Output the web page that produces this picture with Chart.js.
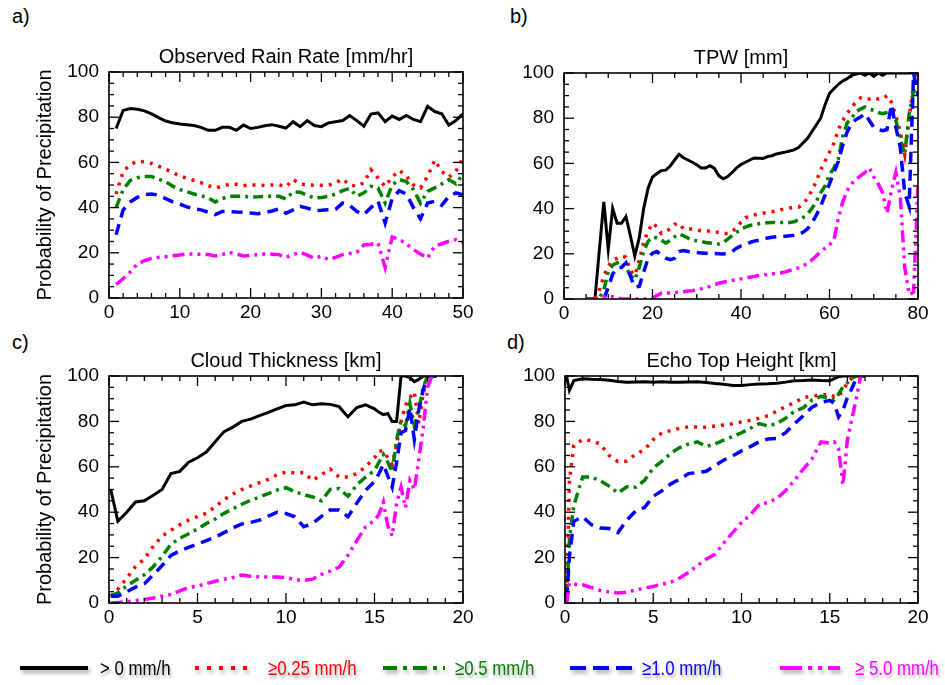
<!DOCTYPE html>
<html>
<head>
<meta charset="utf-8">
<title>Probability of Precipitation</title>
<script src="https://cdn.jsdelivr.net/npm/chart.js@4.4.0/dist/chart.umd.min.js"></script>
<style>
  body { margin: 0; width: 945px; height: 685px; background: #fff; position: relative; overflow: hidden;
         font-family: "Liberation Sans", Arial, Helvetica, sans-serif; }
  canvas { position: absolute; }
  .tag { position: absolute; font-size: 20px; line-height: 20px; color: #000; }
  .leg-line { position: absolute; filter: drop-shadow(2px 3px 2px rgba(0,0,0,0.35)); }
  .leg-text { position: absolute; font-size: 21px; line-height: 22px; white-space: nowrap;
              transform: scaleX(0.8); transform-origin: left center; text-shadow: 2px 3px 3px rgba(0,0,0,0.3); }
</style>
</head>
<body>
<div class="tag" style="left:12px; top:6px">a)</div>
<div class="tag" style="left:510px; top:6px">b)</div>
<div class="tag" style="left:12px; top:332px">c)</div>
<div class="tag" style="left:507px; top:332px">d)</div>

<canvas id="chartA"></canvas>
<canvas id="chartB"></canvas>
<canvas id="chartC"></canvas>
<canvas id="chartD"></canvas>
<div id="legend"></div>

<script>
// ---- data ----

const seriesNames = ['> 0 mm/h', '≥0.25 mm/h', '≥0.5 mm/h', '≥1.0 mm/h', '≥ 5.0 mm/h'];

// a) Observed Rain Rate [mm/hr]
const rainRate = [1,2,3,4,5,6,7,8,9,10,11,12,13,14,15,16,17,18,19,20,21,22,23,24,25,
                  26,27,28,29,30,31,32,33,34,35,36,37,38,39,40,41,42,43,44,45,46,47,48,49,50];
const rrGt0 = [75,83,83.8,83.5,82.8,81.5,79.8,78.3,77.5,77, 76.7,76.3,75.5,74.2,74.2,75.5,75.5,74.2,76.5,75,
               75.5,76.2,76.7,76,75.2,78,75.8,78.5,76.3,75.8, 77.5,78,78.5,80.7,78.5,76,81.4,81.9,78,80.5,
               79,80.8,79,78,84.8,82.5,81.5,76.5,78.5,81.5];
const rrGe025 = [46,56,59,60.5,60.3,59.5,58.3,57,55.5,54, 53,52,51,49.7,48.7,49.5,50.3,50.3,49.7,50.1,
                 49.9,49.8,50,50.1,49.2,52.4,50.5,50,49.9,49.9, 49.9,51,52.7,50,49.5,51,56.8,53.1,49.4,53.5,
                 56.5,54,50,48.7,53.8,61,56,53.5,56,62];
const rrGe05 = [40,48,52,53.2,53.8,53.8,52.6,51.5,49.5,48, 47,46,45.2,44.4,42.5,44,45,45,45,44.7,
                44.8,45,45,45,43.8,47,46.8,45.5,44.2,44.5, 45,46,47.5,48.5,45,46.5,49.4,48.7,42,50,
                52.4,51.5,48,42,47.2,48.7,50.5,52.4,50.5,55];
const rrGe10 = [28,39,42.5,44.5,45.8,46,45.5,44,42.5,41.5, 40.3,39.5,39,38,36.9,38.3,38.2,38,37.9,37.6,
                37.3,37.8,38.5,39.4,37.5,39,40.6,39.8,38.7,38.8, 39,39.2,42,41,38.3,36.9,40,42.8,33.2,44,
                47.5,46,40,35,42,42.8,41,45,46.5,45.7];
const rrGe50 = [6,8.5,11.5,15,16.5,17.5,18,18.3,18.7,19, 19.5,19.4,19.3,19.2,18.6,19.2,20.2,19.5,18.6,18.8,
                19.2,19.5,19.4,19.2,18,19.2,20.2,19,17.6,18.5, 17,18,19.2,19.7,20.2,23.5,23.8,24.3,13.5,27,
                26,24,21.4,19.5,17.7,23,24,25.1,25.8,24.6];

// b) TPW [mm]
const tpw = [5,6,7,8,9,10,11,12,13,14,15,16,17,18,19,20,21,22,23,24,25,26,27,28,29,30,31,32,33,34,35,36,37,38,39,40,
             41,42,43,44,45,46,47,48,49,50,51,52,53,54,55,56,57,58,59,60,61,62,63,64,65,66,67,68,69,70,
             71,72,73,74,75,76,77,78,79,80];
const tpwGt0 = [null,null,0,22,43,22,40,33.5,33.5,36.5, 28,19,27,40,49,54,55.5,56.8,57,58.8,
                61.5,64,62.5,61.5,60.5,59.4,58,58,59,57.8, 54.5,53.2,54.2,56,58,59.5,60.5,61.5,62.4,62.3,
                62.2,63,63.4,64.2,64.6,65,65.5,66,67,69, 71,74,77,80,86,91,93,95,96.5,97.5,
                99,99.5,100,99,100,98.5,100,99,100,100, 100,100,100,100,100,100];
const tpwGe025 = [0,0,0,4,10,14.5,17,18,19,18.5, 12.5,10.5,17,25,30,33.5,32,29,30,31,
                  33,33.5,31,31,31,30.5,30.2,30.2,30,29.5, 29.5,29,29,30,31.5,34,36,36.5,37.2,37.6,
                  38,38.3,38.6,39,39.5,40,40.3,40.5,40.6,42, 44.5,48,52,57,61,65,69,75,79,82,
                  85,87,89,88.5,88.5,89.2,88.5,88.5,90,87, 81,74,64,80,95,100];
const tpwGe05 = [0,0,0,0.5,4,12,15,16,16.5,14, 10.5,8.5,14,21,25.5,27.5,27,26,24.7,26,
                 27.6,28.8,28,27,26,25.8,25.5,25,24.8,24.5, 24.3,25,26.5,28,29.5,31,31.8,32.5,33,33.3,
                 33.5,33.7,33.9,33.9,33.9,33.9,33.9,34.2,35,36, 37.5,40,43,47,50,55,58,62,72,78,
                 80,83,84,85,84,83.5,82.5,82,82.5,83, 79,71,64,82,92,97];
const tpwGe10 = [0,0,0,0,0,5,11,13.7,14,16, 10,5.3,5.6,12,18,20.3,21,19.5,18.1,17.4,
                 18,21,21.4,21,20.7,20.6,20.4,20.2,20.2,20.1, 20,19.9,20.3,21,22.5,23.5,24,25,25.6,26,
                 26.5,27,27.3,27.5,27.6,27.8,28,28.2,28.5,29.5, 31,33.5,37,41,46,51,56,61,68,74,
                 77.5,79.5,80.5,82,79,76,75,74.5,75,86, 76,67,47,41,100,90];
const tpwGe50 = [0,0,0,0.5,1,1.2,1,0.5,0,0, 0,0,0,0,0,0.3,1.5,2.5,2.6,2.6,
                 2.8,3,3.2,3.5,3.7,4,4.5,5,5.6,6.3, 7,7.4,7.8,8.2,8.6,8.9,9.2,9.6,10,10.4,
                 10.6,10.9,11.1,11.3,11.5,12,12.6,13.2,13.8,14.6, 15.8,17.2,19,21,22.5,24,26,36,43,48,
                 51,53,54.5,56,58,54,51,47,38,48, 56,45,14,2,3,50];

// c) Cloud Thickness [km]
const cloudThk = [0.1,0.5,1,1.5,2,2.5,3,3.5,4,4.5,5,5.5,6,6.5,7,7.5,8,8.5,9,9.5,10,10.5,11,11.5,12,12.5,13,13.5,14,14.5,
                  15,15.25,15.5,15.75,16,16.25,16.5,16.75,17,17.25,17.5,17.75,18,18.25,18.5];
const ctGt0 = [50,36,40,44.5,45,47.5,50,57,58,62, 64,66.5,71,75.5,77.5,80,81,82.5,84,85.5,
               87,87.3,88.5,87.3,87.8,87.5,86.5,82,86.1,87.3, 85.5,84,83,83.5,80,80,100,100,99.3,97.5,
               98.5,100,100,100,100];
const ctGe025 = [3,6,11,16,19.5,25,29.5,32,34.5,36.5, 38,39.5,42.5,45.5,48,50,51.5,53,54.5,56.5,
                 57.7,57.3,57.5,54,56.5,59,55.5,55.5,57,60, 64,67,67,64,61,70,80,87,90.5,93,
                 79,92,100,100,100];
const ctGe05 = [3,4.5,7.5,10,12.5,16,20.5,26,28.5,30.5, 32.6,35,37,39.5,41.5,43.5,45.2,46.7,48.2,49.8,
                50.8,49,47.8,46.7,45,50,50.4,47,52,55.5, 58.4,62,65.5,62,57.7,72,80.3,78,88,78,
                85,95,100,100,100];
const ctGe10 = [3,3,5,7,8.5,12.4,16.5,21,23,24.5, 26,27.5,29,31,33,34.8,35.5,36.5,38.3,40,
                39.4,38,33.6,35,38.2,41,41,38,44,49.6, 53.5,57,61,56,51,62,75,76,86,72,
                85,94,100,100,100];
const ctGe50 = [0,0.2,0.5,1,1.5,2.2,3,3.8,5.3,6.8, 7.5,8.5,9.6,10.5,11.2,12.3,11.8,11.5,11.4,11.4,
                11.2,10.3,9.9,10.5,12.6,14,15.8,21,27.5,33.6, 36.5,39,44.5,34,29.5,44,51,42,54,50,
                63,77,95,100,100];

// d) Echo Top Height [km]
const echoTop = [0.1,0.25,0.5,1,1.5,2,2.5,3,3.5,4,4.5,5,5.5,6,6.5,7,7.5,8,8.5,9,9.5,10,10.5,11,11.5,12,12.5,13,13.5,14,14.5,15,
                 15.25,15.5,15.75,16,16.25,16.5,16.75,17];
const ethGt0 = [99.5,93.7, 98,98.8,98.6,98.5,98.1,97.6,97.3,97.4,97.5,97.3, 97.5,97.3,97.2,97.4,97.5,97.1,96.7,96.4,95.8,95.8,
                96.2,96.5,96.6,96.8,97.3,97.9,98,98.2,98,97.9, 98.8,99.7,100,100,100,100,100,100];
const ethGe025 = [1,54, 69.5,72,71.5,70,65,62.3,62.5,65.5,67.5,72, 75,76,77,77.6,77.5,77.4,78,78.4,79,79.8,
                  80.5,81.4,82.5,84.5,86.5,88.3,90.5,91.2,91.5,92, 91,91,93.8,97,99,99.7,100,100];
const ethGe05 = [4,28, 43,55.5,55.5,53.8,51.5,48.5,51.2,51,54,59.5, 62.5,66,68.5,70,71,69,70,71.8,73.3,75,
                 77,79,78,79,81.4,84.5,86,89.5,91,90, 89.5,92,95.3,97,99,100,100,100];
const ethGe10 = [2,20.5, 36,38,34.5,33,32.8,31,36.5,40.5,42,47, 49.5,52.5,54.5,57,57.5,58,60.5,63,64.8,67,
                 68.9,71,72.3,72.5,75,79,82.5,86.3,88.3,89.3, 88,82,85,90.5,94.5,99,100,100];
const ethGe50 = [0,8.8, 8.3,8,6.8,5.5,4.9,4.4,4.8,5.7,6.6,7.3, 8.3,9.2,11,13.5,16.5,19.3,21.5,26.5,31,35.5,
                 38.8,43.3,44.3,46,49.5,54,59,63.5,71,70.4, 71,68,52,72,81,90,100,100];

// ---- styles ----
const seriesStyle = [
  { color: '#000000', dash: [],                 width: 3 },
  { color: '#ff0000', dash: [3, 6],             width: 3.5 },
  { color: '#008000', dash: [10, 5, 3, 5],      width: 3.5 },
  { color: '#0000ff', dash: [11, 7],            width: 3.5 },
  { color: '#ff00ff', dash: [12, 5, 3, 5, 3, 5], width: 3.5 }
];

Chart.defaults.font.family = '"Liberation Sans", Arial, Helvetica, sans-serif';
Chart.defaults.color = '#000';

// box round the plot and inward ticks on all four sides
const framePlugin = {
  id: 'frame',
  afterDatasetsDraw(chart, args, opts) {
    const { ctx, chartArea: a, scales: { x, y } } = chart;
    ctx.save();
    ctx.strokeStyle = '#000';
    ctx.lineWidth = 1.3;
    const seg = (x1, y1, x2, y2) => { ctx.beginPath(); ctx.moveTo(x1, y1); ctx.lineTo(x2, y2); ctx.stroke(); };
    const isMajor = (v, step) => Math.abs(v / step - Math.round(v / step)) < 1e-6;

    const nx = Math.round((x.max - x.min) / opts.xMinor);
    for (let i = 0; i <= nx; i++) {
      const v = x.min + i * opts.xMinor;
      const len = isMajor(v, opts.xMajor) ? 10 : 5;
      const px = x.getPixelForValue(v);
      seg(px, a.bottom, px, a.bottom - len);
      seg(px, a.top, px, a.top + len);
    }
    const ny = Math.round((y.max - y.min) / opts.yMinor);
    for (let i = 0; i <= ny; i++) {
      const v = y.min + i * opts.yMinor;
      const len = isMajor(v, opts.yMajor) ? 10 : 5;
      const py = y.getPixelForValue(v);
      seg(a.left, py, a.left + len, py);
      seg(a.right, py, a.right - len, py);
    }
    ctx.lineWidth = 1.6;
    ctx.strokeRect(a.left, a.top, a.right - a.left, a.bottom - a.top);
    ctx.restore();
  }
};

function makeDatasets(xs, ysList) {
  return ysList.map((ys, i) => ({
    label: seriesNames[i],
    data: xs.map((x, j) => ({ x: x, y: ys[j] })),
    borderColor: seriesStyle[i].color,
    backgroundColor: seriesStyle[i].color,
    borderDash: seriesStyle[i].dash,
    borderWidth: seriesStyle[i].width,
    borderCapStyle: 'butt',
    pointRadius: 0,
    tension: 0,
    fill: false,
    spanGaps: false,
    order: 5 - i
  }));
}

function makePanel(id, box, title, xs, ysList, xMax, xMajor, xMinor, showYTitle) {
  const canvas = document.getElementById(id);
  const left = 76, top = 40, right = 20, bottom = 30;
  canvas.width = (box.r - box.l) + left + right;
  canvas.height = (box.b - box.t) + top + bottom;
  canvas.style.left = (box.l - left) + 'px';
  canvas.style.top = (box.t - top) + 'px';

  return new Chart(canvas.getContext('2d'), {
    type: 'line',
    data: { datasets: makeDatasets(xs, ysList) },
    options: {
      responsive: false,
      animation: false,
      devicePixelRatio: 1,
      events: [],
      layout: { padding: { left: 0, right: right, top: 0, bottom: 0 } },
      plugins: {
        legend: { display: false },
        tooltip: { enabled: false },
        title: {
          display: true,
          fullSize: false,
          text: title,
          font: { size: 20, weight: 'normal' },
          color: '#000',
          padding: { top: 13, bottom: 3 }
        },
        frame: { xMajor: xMajor, xMinor: xMinor, yMajor: 20, yMinor: 5 }
      },
      scales: {
        x: {
          type: 'linear',
          min: 0,
          max: xMax,
          ticks: { stepSize: xMajor, autoSkip: false, maxRotation: 0, padding: 3, font: { size: 19 }, color: '#000' },
          grid: { display: false, drawTicks: false },
          border: { display: false },
          afterFit: (s) => { s.height = bottom; }
        },
        y: {
          min: 0,
          max: 100,
          ticks: { stepSize: 20, padding: 10, font: { size: 19 }, color: '#000' },
          grid: { display: false, drawTicks: false },
          border: { display: false },
          title: {
            display: showYTitle,
            text: 'Probability of Precipitation',
            font: { size: 20 },
            color: '#000',
            padding: { top: 0, bottom: 0 }
          },
          afterFit: (s) => { s.width = left; }
        }
      }
    },
    plugins: [framePlugin]
  });
}

makePanel('chartA', { l: 109, t: 72, r: 463, b: 298 }, 'Observed Rain Rate [mm/hr]',
  rainRate, [rrGt0, rrGe025, rrGe05, rrGe10, rrGe50], 50, 10, 2, true);
makePanel('chartB', { l: 564, t: 73, r: 918, b: 299 }, 'TPW [mm]',
  tpw, [tpwGt0, tpwGe025, tpwGe05, tpwGe10, tpwGe50], 80, 20, 5, false);
makePanel('chartC', { l: 109, t: 376, r: 463, b: 603 }, 'Cloud Thickness [km]',
  cloudThk, [ctGt0, ctGe025, ctGe05, ctGe10, ctGe50], 20, 5, 1, true);
makePanel('chartD', { l: 565, t: 376, r: 918, b: 603 }, 'Echo Top Height [km]',
  echoTop, [ethGt0, ethGe025, ethGe05, ethGe10, ethGe50], 20, 5, 1, false);

// shared legend along the bottom
const legendSlots = [
  { x1: 20, x2: 88, tx: 100 },
  { x1: 195, x2: 255, tx: 268 },
  { x1: 383, x2: 445, tx: 455 },
  { x1: 570, x2: 632, tx: 642 },
  { x1: 780, x2: 840, tx: 855 }
];
const legendDash = ['', '4 8', '14 6 4 6', '16 7', '22 6 4 6 4 6'];
const legend = document.getElementById('legend');
legendSlots.forEach((slot, i) => {
  const w = slot.x2 - slot.x1;
  const svg = `<svg class="leg-line" style="left:${slot.x1}px; top:660px" width="${w + 4}" height="16">
      <line x1="0" y1="8" x2="${w}" y2="8" stroke="${seriesStyle[i].color}" stroke-width="4"
            stroke-dasharray="${legendDash[i]}"/></svg>`;
  const txt = `<div class="leg-text" style="left:${slot.tx}px; top:657px; color:${seriesStyle[i].color}">${seriesNames[i]}</div>`;
  legend.insertAdjacentHTML('beforeend', svg + txt);
});
</script>
</body>
</html>
